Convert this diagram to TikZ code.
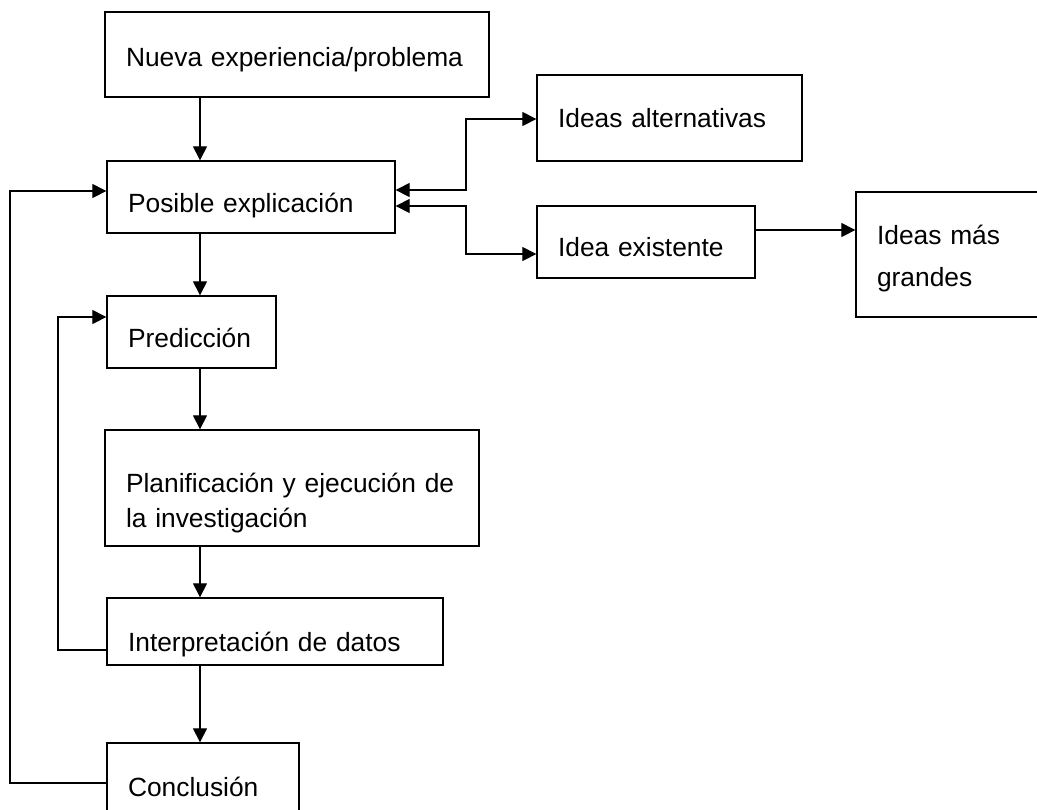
\documentclass[tikz,border=0pt]{standalone}
\usepackage{fontspec}
\setmainfont{Liberation Sans}
\usetikzlibrary{arrows.meta}

\begin{document}
\begin{tikzpicture}[
    x=0.02cm, y=-0.02cm,
    box/.style={rectangle, draw=black, line width=0.75pt, inner xsep=0.42cm, inner ysep=0pt, align=left, font=\fontsize{15}{20}\selectfont},
    oneline/.style={text height=#1, text depth=3.2pt},
    arrow/.style={-{Triangle[length=0.28cm, width=0.28cm]}, line width=0.6pt},
    twoway/.style={{Triangle[length=0.28cm, width=0.28cm]}-{Triangle[length=0.28cm, width=0.28cm]}, line width=0.6pt}
]
    \useasboundingbox (0,0) rectangle (1037,809);

    % Nodes
    \node[box, oneline=16.8pt, text width=6.84cm, minimum height=1.70cm] (nueva) at (297,54.5) {Nueva experiencia/problema};
    \node[box, oneline=20.8pt, text width=4.92cm, minimum height=1.44cm] (posible) at (251,197) {Posible explicación};
    \node[box, oneline=14pt, text width=4.46cm, minimum height=1.72cm] (alt) at (669.5,118) {Ideas alternativas};
    \node[box, oneline=19.7pt, text width=3.52cm, minimum height=1.44cm] (existente) at (646,242) {Idea existente};
    \node[box, text height=15.6pt, text width=3.76cm, minimum height=2.50cm] (grandes) at (971,254.5) {Ideas más\\[4pt]grandes};
    \node[box, oneline=20.8pt, text width=2.54cm, minimum height=1.44cm] (prediccion) at (191.5,332) {Predicción};
    \node[box, text height=28pt, text width=6.64cm, minimum height=2.32cm] (planif) at (292,488) {\mbox{Planificación y ejecución de}\\la investigación};
    \node[box, oneline=25.9pt, text width=5.88cm, minimum height=1.34cm] (interp) at (275,631.5) {Interpretación de datos};
    \node[box, oneline=18.5pt, text width=3.00cm, minimum height=1.60cm] (concl) at (203,783) {Conclusión};

    % Helper points
    \coordinate (spine) at (200,0);
    \coordinate (loopA) at (10,191);
    \coordinate (loopB) at (58,317);
    \coordinate (forkA) at (466,119);
    \coordinate (forkB) at (466,254);

    % Arrows
    \draw[arrow] (nueva.south -| spine) -- (posible.north -| spine);
    \draw[arrow] (posible.south -| spine) -- (prediccion.north -| spine);
    \draw[arrow] (prediccion.south -| spine) -- (planif.north -| spine);
    \draw[arrow] (planif.south -| spine) -- (interp.north -| spine);
    \draw[arrow] (interp.south -| spine) -- (concl.north -| spine);

    \draw[arrow] (concl.west) -| (loopA) -- (loopA -| posible.west);
    \draw[arrow] ([yshift=-0.37cm]interp.west) -| (loopB) -- (loopB -| prediccion.west);

    \draw[twoway] ([yshift=0.14cm]posible.east) -| (forkA) -- (forkA -| alt.west);
    \draw[twoway] ([yshift=-0.18cm]posible.east) -| (forkB) -- (forkB -| existente.west);
    \draw[arrow] ([yshift=0.24cm]existente.east) -- ([yshift=0.24cm]existente.east -| grandes.west);
\end{tikzpicture}
\end{document}
